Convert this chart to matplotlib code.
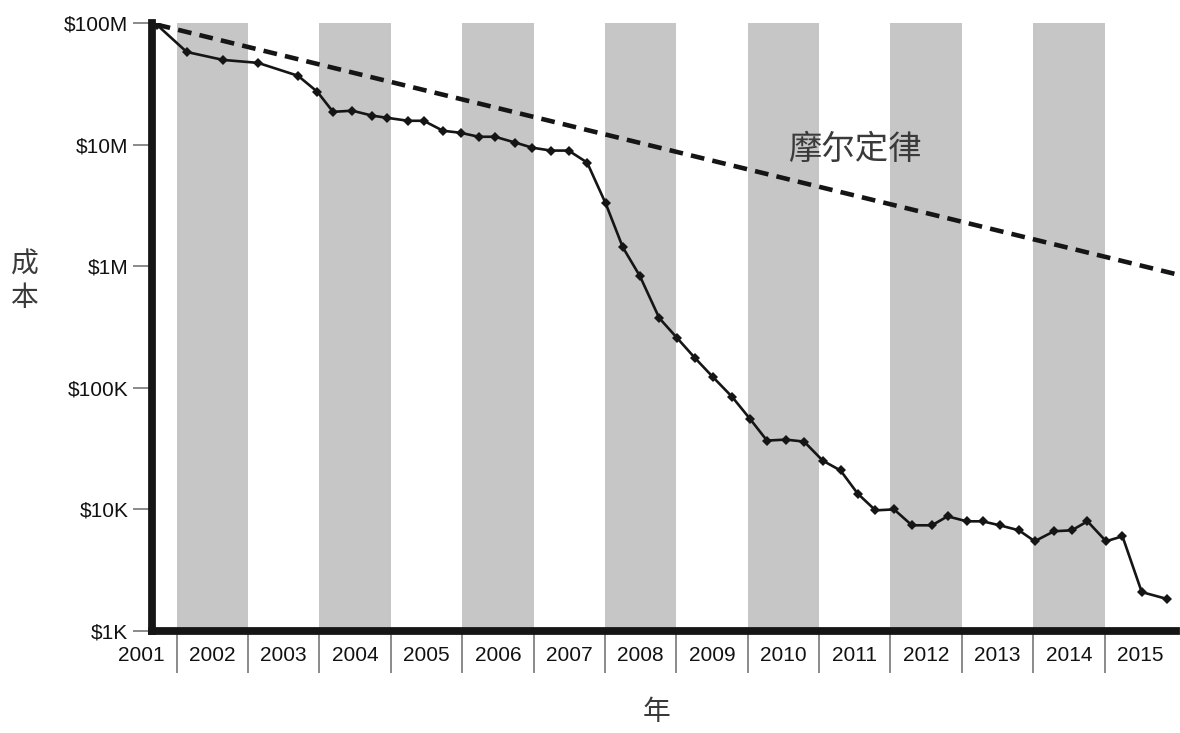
import matplotlib
matplotlib.use("Agg")
import matplotlib.pyplot as plt
import matplotlib.transforms as mtransforms
import numpy as np

# ---- data ----
years = [2001.72, 2002.14, 2002.65, 2003.14, 2003.70, 2003.97, 2004.19, 2004.46,
         2004.74, 2004.95, 2005.24, 2005.46, 2005.73, 2005.98, 2006.23, 2006.46,
         2006.74, 2006.98, 2007.24, 2007.49, 2007.75, 2008.01, 2008.25, 2008.49,
         2008.76, 2009.01, 2009.26, 2009.51, 2009.78, 2010.03, 2010.27, 2010.53,
         2010.79, 2011.05, 2011.30, 2011.54, 2011.79, 2012.05, 2012.30, 2012.58,
         2012.80, 2013.07, 2013.29, 2013.53, 2013.80, 2014.02, 2014.29, 2014.54,
         2014.76, 2015.02, 2015.25, 2015.52, 2015.88]
cost = [97e6, 57.8e6, 49.7e6, 47.0e6, 36.8e6, 27.2e6, 18.6e6, 19.0e6,
        17.3e6, 16.6e6, 15.7e6, 15.7e6, 13.0e6, 12.5e6, 11.6e6, 11.6e6,
        10.4e6, 9.44e6, 8.93e6, 8.93e6, 7.12e6, 3.28e6, 1.43e6, 828e3,
        375e3, 257e3, 176e3, 123e3, 84.4e3, 55.7e3, 36.8e3, 37.5e3,
        36.1e3, 25.2e3, 20.9e3, 13.5e3, 9.82e3, 10.0e3, 7.40e3, 7.40e3,
        8.77e3, 7.98e3, 7.98e3, 7.40e3, 6.73e3, 5.47e3, 6.61e3, 6.73e3,
        7.98e3, 5.47e3, 6.01e3, 2.09e3, 1.83e3]

moore_years = [2001.72, 2016.0]
moore_cost = [97e6, 0.86e6]

year_labels = [str(y) for y in range(2001, 2016)]
shaded_years = [2002, 2004, 2006, 2008, 2010, 2012, 2014]
ytick_vals = [1e3, 1e4, 1e5, 1e6, 1e7, 1e8]
ytick_labels = ["$1K", "$10K", "$100K", "$1M", "$10M", "$100M"]

moore_label = "摩尔定律"
ylabel = "成本"
xlabel = "年"

# ---- figure ----
W, H = 1180, 733
fig = plt.figure(figsize=(W / 100, H / 100), dpi=100)
L, R, T, B = 152, 1176, 23, 631
ax = fig.add_axes([L / W, 1 - B / H, (R - L) / W, (B - T) / H])
ax.set_yscale("log")
ax.set_xlim(2001.654, 2016.0)
ax.set_ylim(1e3, 1e8)

for y in shaded_years:
    ax.axvspan(y, y + 1, color="#c6c6c6", lw=0, zorder=0)

ax.plot(moore_years, moore_cost, color="#151515", lw=3.3, ls=(0, (3.0, 1.8)),
        zorder=3, solid_capstyle="butt", dash_capstyle="butt")
ax.plot(years, cost, color="#151515", lw=1.9, marker="D", ms=5.2,
        markeredgewidth=0, zorder=4)

for s in ["top", "right"]:
    ax.spines[s].set_visible(False)
for s in ["left", "bottom"]:
    ax.spines[s].set_linewidth(5.6)
    ax.spines[s].set_color("#151515")
    ax.spines[s].set_zorder(5)

tick_font = {"family": "Liberation Sans", "size": 15}

ax.set_yticks(ytick_vals)
ax.set_yticklabels(ytick_labels, fontdict=tick_font, color="#111111")
ax.yaxis.set_minor_locator(matplotlib.ticker.NullLocator())
ax.tick_params(axis="y", which="major", direction="out", length=14, width=1.2,
               color="#777777", pad=3)

ax.set_xticks(list(range(2002, 2016)))
ax.set_xticklabels([])
ax.xaxis.set_minor_locator(matplotlib.ticker.NullLocator())
ax.tick_params(axis="x", which="major", direction="out", length=30, width=1.2,
               color="#777777")

trans = mtransforms.blended_transform_factory(ax.transData, ax.transAxes)
for lab in year_labels:
    ax.text(int(lab) + 0.5, -0.041, lab, transform=trans, ha="center", va="center",
            fontdict=tick_font, color="#111111", clip_on=False)

cjk = ["Noto Sans CJK SC", "DejaVu Sans"]
fig.text(855 / W, 1 - 149 / H, moore_label, family=cjk, fontsize=24,
         color="#3a3a3a", ha="center", va="center")
fig.text(25 / W, 1 - 281 / H, "成\n本", family=cjk, fontsize=20,
         color="#3a3a3a", ha="center", va="center", linespacing=1.15)
fig.text(657 / W, 1 - 712 / H, xlabel, family=cjk, fontsize=20,
         color="#3a3a3a", ha="center", va="center")

fig.savefig("out.png", dpi=100)
